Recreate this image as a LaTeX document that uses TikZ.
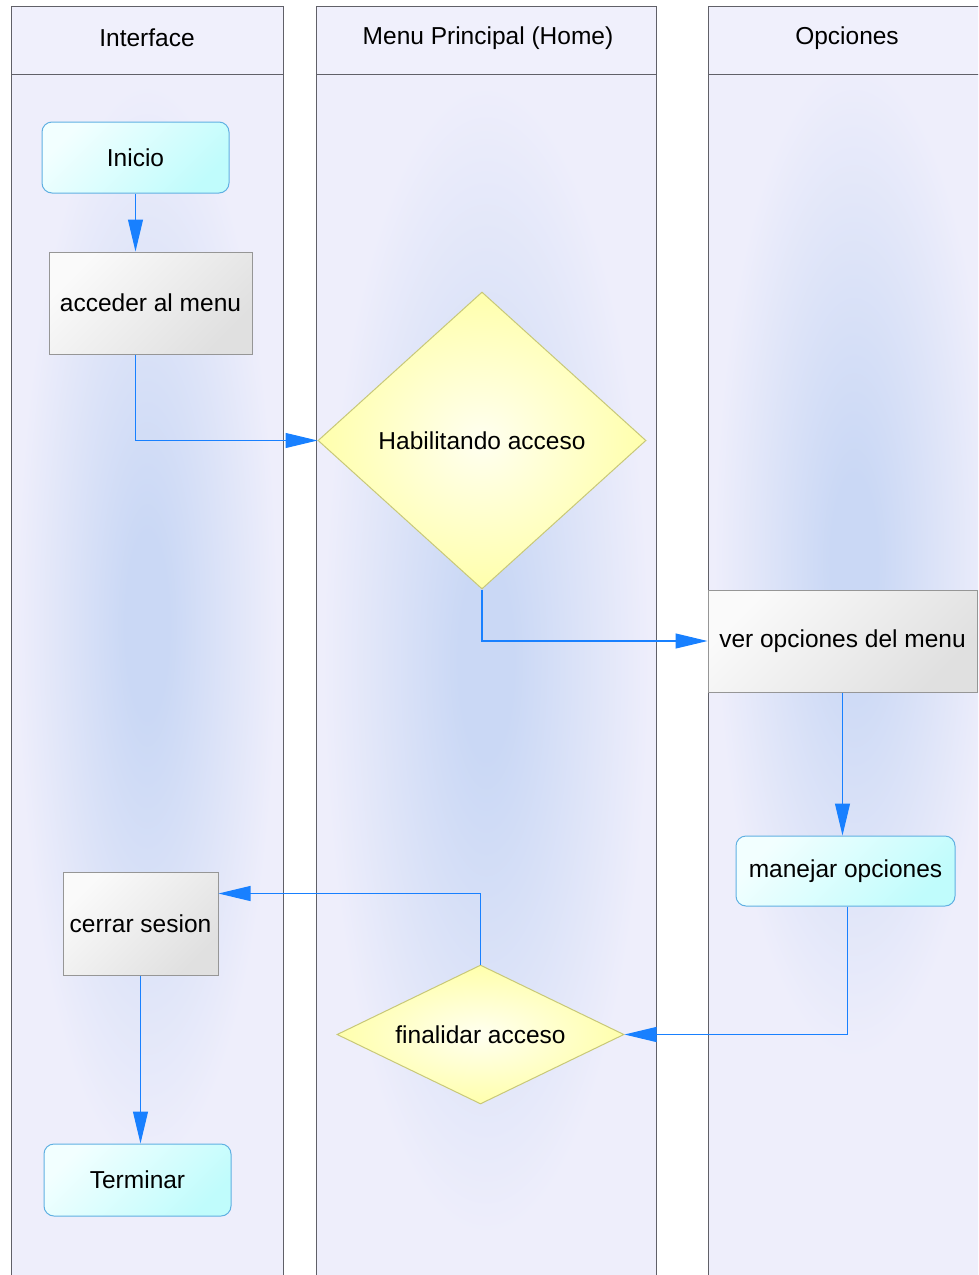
\documentclass[tikz,border=0pt]{standalone}
\usepackage{fontspec}
\setmainfont{Liberation Sans}
\usetikzlibrary{shapes.geometric,arrows.meta,calc}

\definecolor{laneedge}{RGB}{96,96,104}
\definecolor{lanebg}{RGB}{238,238,251}
\definecolor{laneglow}{RGB}{202,216,245}
\definecolor{lanemid}{RGB}{220,227,248}
\definecolor{headbg}{RGB}{240,240,252}
\definecolor{flow}{RGB}{24,128,255}
\definecolor{cyanlight}{RGB}{242,255,255}
\definecolor{cyandark}{RGB}{192,252,252}
\definecolor{cyanedge}{RGB}{96,176,226}
\definecolor{graylight}{RGB}{250,250,250}
\definecolor{graydark}{RGB}{224,224,224}
\definecolor{grayedge}{RGB}{150,150,150}
\definecolor{yellowlight}{RGB}{255,255,240}
\definecolor{yellowdark}{RGB}{255,255,172}
\definecolor{yellowedge}{RGB}{200,200,120}

% soft glow in the middle of each swimlane (the filled path spans radius 25bp)
\pgfdeclareradialshading{laneglowshade}{\pgfpoint{0bp}{0bp}}{%
  color(0bp)=(laneglow); color(4bp)=(laneglow);
  color(14bp)=(lanemid); color(24bp)=(lanebg); color(50bp)=(lanebg)}

\tikzset{
  lanetitle/.style={font=\fontsize{24.5}{29}\selectfont, inner sep=0pt, anchor=center},
  nodetext/.style={font=\fontsize{24.5}{29}\selectfont, inner sep=0pt, anchor=center, text=black},
  startbox/.style={nodetext, rectangle, rounded corners=10pt, draw=cyanedge, line width=1pt,
    top color=cyanlight, bottom color=cyandark, shading angle=45},
  actbox/.style={nodetext, rectangle, draw=grayedge, line width=1pt,
    top color=graylight, bottom color=graydark, shading angle=45},
  decbox/.style={nodetext, diamond, aspect=2, draw=yellowedge, line width=1pt,
    inner color=yellowlight, outer color=yellowdark},
  flowline/.style={draw=flow, line width=1.1pt,
    -{Triangle[length=32pt,width=15pt]}},
}

\begin{document}
\begin{tikzpicture}[x=1pt,y=-1pt]
\clip (0,0) rectangle (978,1275);
\fill[white] (0,0) rectangle (978,1275);

% swimlanes: body, glow, header and outline
\foreach \xa/\xb/\ga/\gb in {11/283/60/1190, 316/656/60/1260, 708/1000/40/1080}{
  \fill[lanebg] (\xa,74) rectangle (\xb,1290);
  \begin{scope}
    \clip (\xa,74) rectangle (\xb,1290);
    \shade[shading=laneglowshade] (\xa,\ga) rectangle (\xb,\gb);
  \end{scope}
  \fill[headbg] (\xa,6) rectangle (\xb,74);
  \draw[laneedge, line width=1pt] (\xa,1290) -- (\xa,6) -- (\xb,6) -- (\xb,1290);
  \draw[laneedge, line width=1pt] (\xa,74) -- (\xb,74);
}
\node[lanetitle] (t1) at (147,38) {Interface};
\node[lanetitle] (t2) at (488,38) {Menu Principal (Home)};
\node[lanetitle] (t3) at (847,38) {Opciones};

% flow steps
\node[startbox, minimum width=187pt, minimum height=71pt] (inicio) at (135.5,157.5) {Inicio};
\node[actbox, minimum width=203pt, minimum height=102pt] (acceder) at (150.5,303) {acceder al menu};
\node[decbox, minimum width=328pt, minimum height=297pt] (hab) at (482,440.5) {Habilitando acceso};
\node[actbox, minimum width=269pt, minimum height=102pt] (ver) at (842.5,641) {ver opciones del menu};
\node[startbox, minimum width=219pt, minimum height=70pt] (manejar) at (845.5,871) {manejar opciones};
\node[decbox, minimum width=287pt, minimum height=139pt] (fin) at (480.5,1034.5) {finalidar acceso};
\node[actbox, minimum width=155pt, minimum height=103pt] (cerrar) at (140.5,923.5) {cerrar sesion};
\node[startbox, minimum width=187pt, minimum height=72pt] (terminar) at (137.5,1180) {Terminar};

% connectors
\draw[flowline] (inicio.south) -- (inicio.south |- acceder.north);
\draw[flowline] (acceder.south -| inicio.south) |- (hab.west);
\draw[flowline] (hab.south) |- (ver.west);
\draw[flowline] (ver.south) -- (ver.south |- manejar.north);
\draw[flowline] ([xshift=2pt]manejar.south) |- (fin.east);
\draw[flowline] (fin.north) |- ([yshift=30pt]cerrar.east);
\draw[flowline] (cerrar.south) -- (cerrar.south |- terminar.north);
\end{tikzpicture}
\end{document}
